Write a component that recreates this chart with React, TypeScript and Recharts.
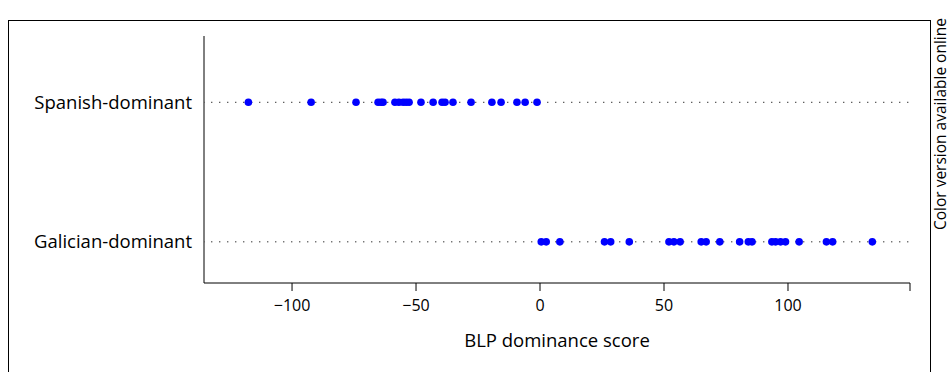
import React from 'react';
import {
  ScatterChart,
  Scatter,
  XAxis,
  YAxis,
  ReferenceLine,
} from 'recharts';

// BLP dominance scores per group
const spanishScores = [
  -117.6, -92.3, -74.2, -65.3, -64.1, -63.3, -58.5, -56.9, -55.2, -54.0, -52.8,
  -48.0, -43.1, -39.5, -38.3, -35.1, -27.8, -19.4, -15.7, -9.3, -6.0, -1.2,
];
const galicianScores = [
  0.5, 2.5, 8, 26, 28.5, 36, 52, 54, 56.5, 65, 67, 72.5, 80.5, 84, 85.5, 93.5,
  95, 97, 99, 104.5, 115.5, 118, 134,
];

const groups = ['Galician-dominant', 'Spanish-dominant'];
const groupRows = [1, 2];
const xTicks = [-100, -50, 0, 50, 100];
const xDomain = [-135.5, 149.2];

const FONT = '"Open Sans", "Noto Sans", sans-serif';

const spanishData = spanishScores.map((v) => ({ score: v, row: 2 }));
const galicianData = galicianScores.map((v) => ({ score: v, row: 1 }));

const Dot = (props: any) => {
  const { cx, cy } = props;
  return <circle cx={cx} cy={cy} r={3.8} fill="#0000ff" />;
};

const App: React.FC = () => {
  return (
    <div
      style={{
        position: 'absolute',
        left: 0,
        top: 0,
        width: 949,
        height: 372,
        overflow: 'hidden',
        background: '#fff',
        fontFamily: FONT,
      }}
    >
      {/* page frame */}
      <div
        style={{
          position: 'absolute',
          left: 8,
          top: 20,
          width: 923,
          height: 400,
          border: '1px solid #000',
          boxSizing: 'border-box',
        }}
      />
      <div
        style={{
          position: 'absolute',
          left: 932,
          top: 18,
          writingMode: 'vertical-rl',
          transform: 'rotate(180deg)',
          whiteSpace: 'nowrap',
          fontSize: 15.5,
          lineHeight: '16px',
          color: '#000',
        }}
      >
        Color version available online
      </div>
      <div style={{ position: 'absolute', left: 0, top: 0 }}>
        <ScatterChart
          width={949}
          height={372}
          margin={{ top: 36, right: 39, bottom: 0, left: 0 }}
        >
          <XAxis
            type="number"
            dataKey="score"
            domain={xDomain}
            ticks={[...xTicks, xDomain[1]]}
            interval={0}
            allowDataOverflow
            tickFormatter={(v: number) => (xTicks.includes(v) ? (v < 0 ? `\u2212${Math.abs(v)}` : `${v}`) : '')}
            tick={{ fontSize: 16, fill: '#000', fontFamily: FONT }}
            tickSize={8}
            tickMargin={9}
            axisLine={{ stroke: '#000' }}
            tickLine={{ stroke: '#000' }}
            height={89}
            label={{
              value: 'BLP dominance score',
              position: 'insideBottom',
              offset: 25,
              style: { fontSize: 18.5, fill: '#000', fontFamily: FONT },
            }}
          />
          <YAxis
            type="number"
            dataKey="row"
            domain={[0.705, 2.475]}
            ticks={groupRows}
            interval={0}
            allowDataOverflow
            tickFormatter={(v: number) => groups[v - 1]}
            tick={{ fontSize: 18.5, fill: '#000', fontFamily: FONT }}
            tickLine={false}
            tickSize={0}
            tickMargin={12}
            axisLine={{ stroke: '#000' }}
            width={204}
          />
          {groupRows.map((r) => (
            <ReferenceLine
              key={r}
              y={r}
              stroke="#333"
              strokeWidth={1}
              strokeDasharray="1.4 6.6"
              strokeDashoffset={-7}
            />
          ))}
          <Scatter data={spanishData} shape={Dot} isAnimationActive={false} />
          <Scatter data={galicianData} shape={Dot} isAnimationActive={false} />
        </ScatterChart>
      </div>
    </div>
  );
};

export default App;
